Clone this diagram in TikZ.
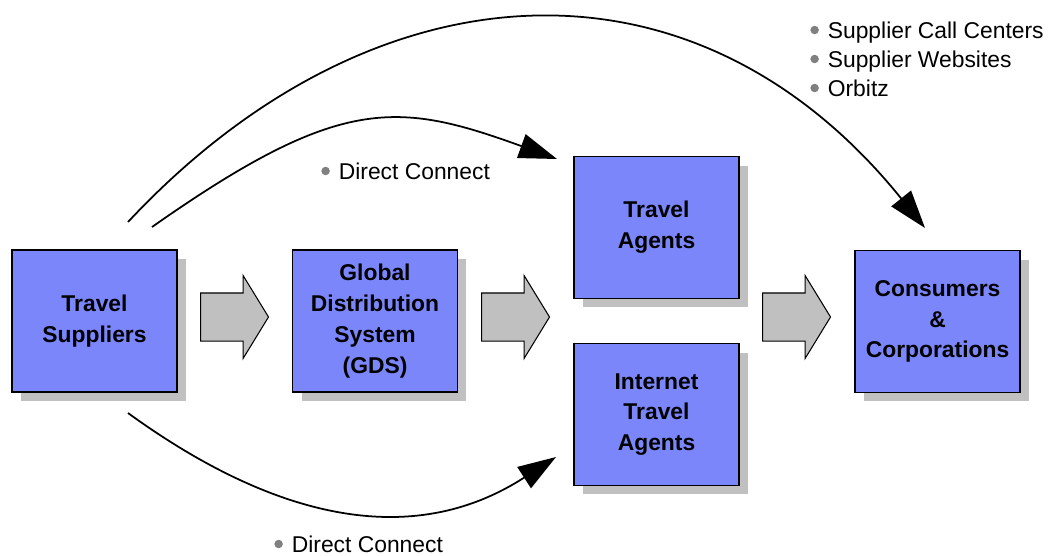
\documentclass[tikz,border=0pt]{standalone}
\usepackage{fontspec}
\setmainfont{Liberation Sans}
\usetikzlibrary{arrows.meta,shapes.arrows,shadows}
\definecolor{boxblue}{RGB}{122,134,250}
\definecolor{shadowgray}{RGB}{192,192,192}
\definecolor{dotgray}{RGB}{128,128,128}
\newcommand{\bul}{\tikz[baseline=-0.35em]\fill[dotgray] (0,0) circle (0.085cm);\hspace{0.18cm}}
\begin{document}
\begin{tikzpicture}[x=0.02cm,y=-0.02cm,
  box/.style={draw=black,line width=0.8pt,fill=boxblue,minimum width=3.3cm,minimum height=2.84cm,
    align=center,font=\bfseries\fontsize{13}{17.5}\selectfont,
    drop shadow={shadow xshift=0.18cm,shadow yshift=-0.18cm,fill=shadowgray,opacity=1}},
  fat/.style={single arrow,draw=black,line width=0.6pt,fill=shadowgray,inner xsep=0pt,inner ysep=0.47cm,
    minimum height=1.36cm,single arrow head extend=0.35cm,single arrow tip angle=117,anchor=tail},
  link/.style={line width=1pt,-{Triangle[length=0.76cm,width=0.5cm]}},
  lbl/.style={inner sep=0pt,anchor=base west,font=\fontsize{13}{16}\selectfont}]
\useasboundingbox (0,0) rectangle (1050,555);
\node[box] (sup) at (94.5,321) {Travel\\Suppliers};
\node[box] (gds) at (375,321) {Global\\Distribution\\System\\(GDS)};
\node[box] (ta) at (656.5,227.5) {Travel\\Agents};
\node[box] (ita) at (656.5,414.5) {Internet\\Travel\\Agents};
\node[box] (con) at (937.5,321.5) {Consumers\\\&\\Corporations};
\foreach \x [count=\i] in {200,481,762} \node[fat] (f\i) at (\x,317) {};
\coordinate (s1) at (128,222);
\coordinate (s2) at (152,227);
\coordinate (s3) at (128,413);
\coordinate (e1) at (925,228);
\coordinate (e2) at (557,159);
\coordinate (e3) at (556,457);
\draw[link] (s1) .. controls (369,-36) and (691,-62) .. (e1);
\draw[link] (s2) .. controls (340,95) and (397,101) .. (e2);
\draw[link] (s3) .. controls (270,516) and (409,552) .. (e3);
\node[lbl] (dc1) at (321,179) {\bul Direct Connect};
\node[lbl] (dc2) at (274,552) {\bul Direct Connect};
\foreach \txt [count=\i] in {Supplier Call Centers,Supplier Websites,Orbitz}
  \node[lbl] (web\i) at (810,9+29*\i) {\bul\txt};
\end{tikzpicture}
\end{document}
